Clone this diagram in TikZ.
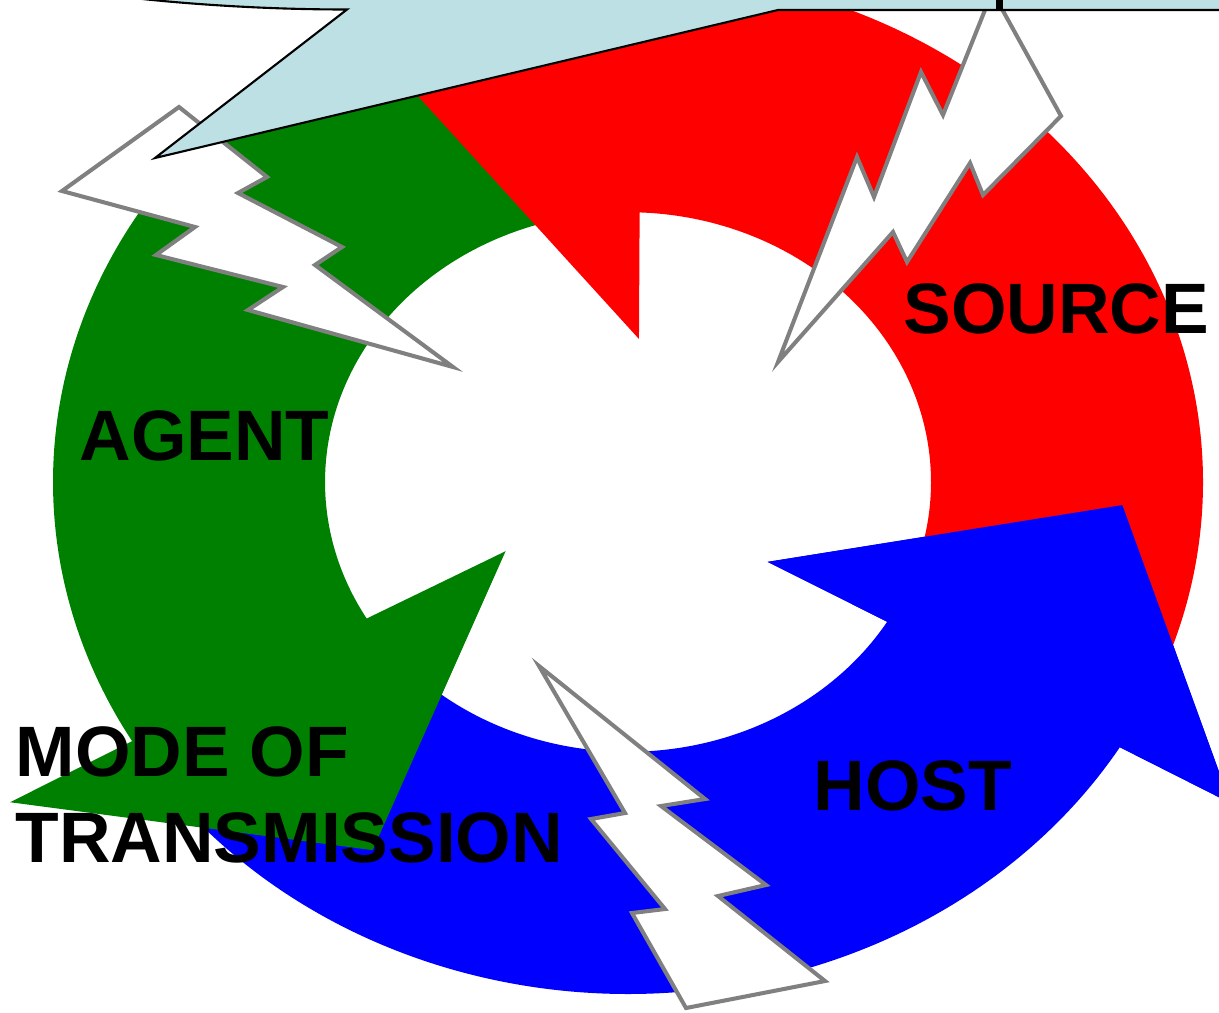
\documentclass[tikz,border=0pt]{standalone}
\usepackage{fontspec}
\setmainfont{Liberation Sans}
\definecolor{ringred}{RGB}{255,0,0}
\definecolor{ringgreen}{RGB}{0,128,0}
\definecolor{ringblue}{RGB}{0,0,255}
\definecolor{calloutblue}{RGB}{189,224,229}
\definecolor{boltgray}{RGB}{128,128,128}
\tikzset{
  every node/.style={font=\fontsize{20.3}{24.5}\selectfont\bfseries, inner sep=0pt},
  stagetext/.style={anchor=base west, text=black},
  bolt/.style={draw=boltgray, fill=white, line width=1.15pt, line join=miter},
  speechbox/.style={draw=black, fill=calloutblue, line width=0.6pt, line join=miter}
}

\begin{document}
\begin{tikzpicture}[x=0.01cm, y=-0.01cm]
  \useasboundingbox (0,0) rectangle (1219,1012);
  \clip (0,0) rectangle (1219,1012);

  % the three ring arrows
  \begin{scope}[shift={(628,482)}, yscale=-0.8904]
    \fill[ringblue] (220:575) arc[start angle=220, end angle=328.8, radius=575]
      -- (329.1:702) -- (357:495) -- (327.3:166) -- (328.8:303)
      arc[start angle=328.8, end angle=220, radius=303] -- cycle;
    \fill[ringgreen] (100:575) arc[start angle=100, end angle=210.4, radius=575]
      -- (210.2:715) -- (238.3:486) -- (212.4:145) -- (210.4:303)
      arc[start angle=210.4, end angle=100, radius=303] -- cycle;
    \fill[ringred] (-25:575) arc[start angle=-25, end angle=87.8, radius=575]
      -- (88:702) -- (116:487) -- (86.1:161) -- (87.8:303)
      arc[start angle=87.8, end angle=-25, radius=303] -- cycle;
    \fill[ringblue] (328.8:303) -- (327.3:166) -- (357:495) -- (329.1:702)
      -- (328.8:575) -- cycle;
  \end{scope}

  % lightning bolts
  \draw[bolt] (989,0) -- (943,115) -- (921,72) -- (874,197) -- (857,157)
    -- (778,362) -- (893,232) -- (907,262) -- (970,163) -- (983,195)
    -- (1061,116) -- (997,0) -- cycle;
  \draw[bolt] (179,107) -- (62,191) -- (195,227) -- (156,255) -- (283,287)
    -- (248,310) -- (453,367) -- (315,265) -- (342,247) -- (238,193)
    -- (267,177) -- cycle;
  \draw[bolt] (539,666) -- (705,799) -- (661,806) -- (766,885) -- (718,896)
    -- (825,981) -- (686,1008) -- (632,913) -- (665,909) -- (591,819)
    -- (625,813) -- cycle;

  % callout at the top
  \draw[speechbox] (100,-6) .. controls (160,2) and (250,9.5) .. (347,9.5)
    -- (155,158) -- (778,10) -- (1230,10) -- (1230,-20) -- (100,-20) -- cycle;
  \fill[black] (996,0) rectangle (1003,10);

  \node[stagetext] (source) at (903,333) {SOURCE};
  \node[stagetext] (agent) at (79,460) {AGENT};
  \node[stagetext] (host) at (813,810) {HOST};
  \node[anchor=north west, align=left] (mode) at (15,726) {MODE OF\\TRANSMISSION};
\end{tikzpicture}
\end{document}
